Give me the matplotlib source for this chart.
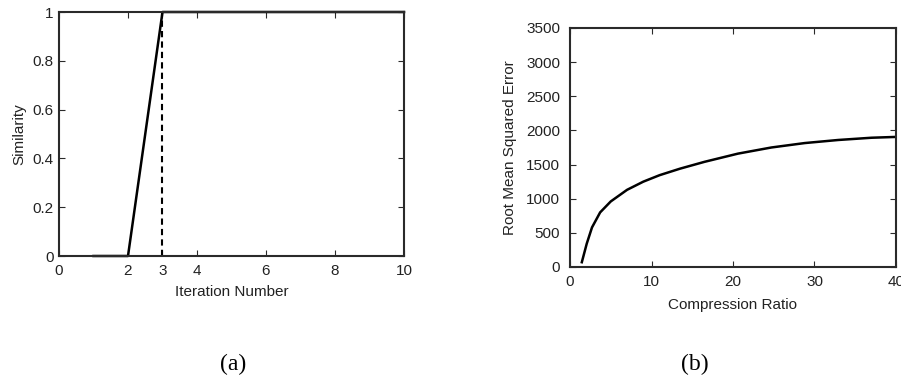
import matplotlib
matplotlib.use("Agg")
import matplotlib.pyplot as plt

# ---- data ----
iterations = [1, 2, 3, 4, 5, 6, 7, 8, 9, 10]
similarity = [0, 0, 1, 1, 1, 1, 1, 1, 1, 1]
converge_iter = 3
left_xticks = [0, 2, 3, 4, 6, 8, 10]
left_yticks = [0, 0.2, 0.4, 0.6, 0.8, 1]
left_yticklabels = ["0", "0.2", "0.4", "0.6", "0.8", "1"]

ratio = [1.45, 2.05, 2.7, 3.7, 5.0, 7.0, 9.0, 11.0, 13.5, 16.5, 20.6, 24.7, 28.8, 32.9, 37.0, 40.0]
rmse = [70, 340, 580, 800, 960, 1130, 1250, 1345, 1440, 1540, 1660, 1750, 1815, 1860, 1893, 1905]
right_xticks = [0, 10, 20, 30, 40]
right_yticks = [0, 500, 1000, 1500, 2000, 2500, 3000, 3500]

plt.rcParams['font.family'] = ['Liberation Sans', 'DejaVu Sans']

fig = plt.figure(figsize=(9.01, 3.81), dpi=100)
W, H = 901, 381

def axes_px(l, t, r, b):
    return fig.add_axes([l / W, 1 - b / H, (r - l) / W, (b - t) / H])

txt = '#222222'
spine_c = '#2a2a2a'

# ---- left panel ----
ax1 = axes_px(59, 12, 404, 256)
ax1.plot(iterations, similarity, color='black', lw=1.8, clip_on=False)
ax1.plot([converge_iter, converge_iter], [0, 1], color='black', lw=1.5,
         linestyle=(0, (3, 2)))
ax1.set_xlim(0, 10)
ax1.set_ylim(0, 1)
ax1.set_xticks(left_xticks)
ax1.set_xticklabels([str(t) for t in left_xticks])
ax1.set_yticks(left_yticks)
ax1.set_yticklabels(left_yticklabels)
ax1.set_xlabel('Iteration Number', fontsize=11, color=txt, labelpad=5)
ax1.set_ylabel('Similarity', fontsize=11, color=txt, labelpad=4)

# ---- right panel ----
ax2 = axes_px(570, 28, 896, 267)
ax2.plot(ratio, rmse, color='black', lw=1.8)
ax2.set_xlim(0, 40)
ax2.set_ylim(0, 3500)
ax2.set_xticks(right_xticks)
ax2.set_yticks(right_yticks)
ax2.set_xlabel('Compression Ratio', fontsize=11, color=txt, labelpad=6)
ax2.set_ylabel('Root Mean Squared Error', fontsize=11, color=txt, labelpad=7)

for ax in (ax1, ax2):
    for s in ax.spines.values():
        s.set_linewidth(1.5)
        s.set_color(spine_c)
    ax.tick_params(direction='in', length=4, width=0.8, top=True, right=True,
                   labelsize=11, labelcolor=txt, color=spine_c)
    ax.tick_params(axis='x', pad=6)
    ax.tick_params(axis='y', pad=4)
ax2.tick_params(axis='y', pad=7)

fig.text(233 / W, 1 - 364 / H, '(a)', fontsize=17, family='Liberation Serif',
         ha='center', va='center')
fig.text(695 / W, 1 - 364 / H, '(b)', fontsize=17, family='Liberation Serif',
         ha='center', va='center')

fig.savefig('out.png', dpi=100)
